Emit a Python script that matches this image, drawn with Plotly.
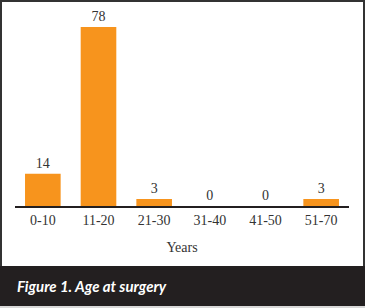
import plotly.graph_objects as go

categories = ["0-10", "11-20", "21-30", "31-40", "41-50", "51-70"]
values = [14, 78, 3, 0, 0, 3]
x_title = "Years"
caption = "Figure 1. Age at surgery"

W, H = 365, 308
L, R, T, B = 15, 16, 27, 102
pw, ph = W - L - R, H - T - B

def px2x(px):
    return (px - L) / pw

def py2y(py):
    return (H - B - py) / ph

FONT = "Liberation Serif"
TXT = "#333333"

fig = go.Figure(go.Bar(
    x=categories, y=values,
    marker=dict(color="#F7941D", line=dict(width=0)),
    text=[str(v) for v in values],
    textposition="outside",
    textfont=dict(family=FONT, size=14, color=TXT),
    cliponaxis=False,
))

fig.update_layout(
    width=W, height=H,
    margin=dict(l=L, r=R, t=T, b=B, pad=0),
    paper_bgcolor="#d8d8d8",
    plot_bgcolor="rgba(0,0,0,0)",
    bargap=0.36,
    showlegend=False,
    xaxis=dict(
        showline=True, linecolor="#231f20", linewidth=1.5,
        ticks="", ticklabelstandoff=0,
        tickfont=dict(family=FONT, size=14, color=TXT),
        title=dict(text=x_title, standoff=16,
                   font=dict(family=FONT, size=14, color=TXT)),
        showgrid=False, zeroline=False, fixedrange=True, automargin=False,
    ),
    yaxis=dict(range=[0, 78], visible=False, fixedrange=True),
    shapes=[
        dict(type="rect", xref="paper", yref="paper", layer="below",
             x0=px2x(1), x1=px2x(364), y0=py2y(305), y1=py2y(1),
             fillcolor="white", line=dict(color="#333333", width=2)),
        dict(type="rect", xref="paper", yref="paper", layer="below",
             x0=px2x(0), x1=px2x(365), y0=py2y(306), y1=py2y(266),
             fillcolor="#231f20", line=dict(width=0)),
    ],
    annotations=[
        dict(text=caption, xref="paper", yref="paper",
             x=px2x(15), y=py2y(286), xanchor="left", yanchor="middle",
             showarrow=False,
             font=dict(family="Lato", size=15, color="white",
                       weight="bold", style="italic")),
    ],
)

fig.write_html(
    "out.html",
    config={"displayModeBar": False},
    post_script="document.body.style.margin='0';document.body.style.overflow='hidden';",
)
